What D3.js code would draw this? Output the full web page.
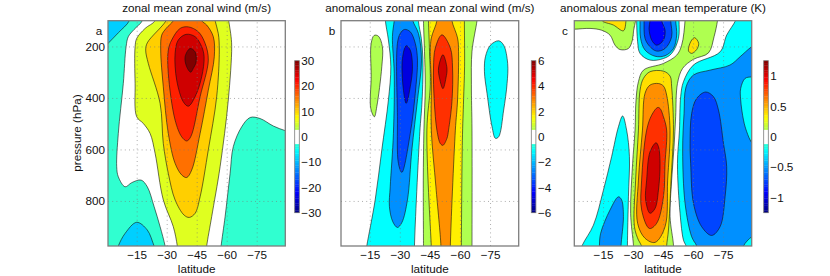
<!DOCTYPE html>
<html>
<head>
<meta charset="utf-8">
<script src="https://cdn.jsdelivr.net/npm/d3@7"></script>
<style>
body { margin: 0; background: #fff; }
text { font-family: "Liberation Sans", sans-serif; fill: #111; }
</style>
</head>
<body>
<div class="plot"></div>
<script>
// all contours are [latitude, pressure], points past the frame get clipped
const latTicks = [-15, -30, -45, -60, -75];
const pressureTicks = [200, 400, 600, 800];
const cbarA = [30, 20, 10, 0, -10, -20, -30];
const cbarB = [6, 4, 2, 0, -2, -4, -6];
const cbarC = [1, 0.5, 0, -0.5, -1];

// panel a, zonal mean zonal wind
const a_m15_corner = [[-0.7,188],[-5.8,147],[-11.3,100],[-12,60],[5,60],[5,234]];
const a_m5_left = [[-17.8,100],[-13.7,134],[-10.8,162],[-9.7,201],[-8.3,344],[-5.8,538],[-5,667],[-5.8,706],[-9.2,745],[-12.5,729],[-17.2,719],[-20.3,745],[-23.7,822],[-26.7,900],[-29.2,975],[-30,1016],[5,1016],[5,60],[-18.3,60]];
const a_m5_right = [[-57.2,975],[-59.2,861],[-61.7,693],[-63.3,589],[-67.5,512],[-71.7,476],[-76.7,480],[-83.3,509],[-89.3,527],[-95,538],[-95,1016],[-56.7,1016]];
const a_m15_bottom = [[-5.8,975],[-9.2,926],[-15,883],[-20.3,913],[-23.7,975],[-25.8,1016],[-4.2,1016]];
const a_p5 = [[-24.2,100],[-19.2,130],[-15,169],[-14.2,201],[-14.2,344],[-15,473],[-18.3,499],[-21.7,538],[-24.2,615],[-28.3,796],[-33.3,900],[-35.3,975],[-35.8,1016],[-49.5,1016],[-50,975],[-52.5,861],[-56.7,667],[-60.8,408],[-62.5,201],[-62,150],[-61,100],[-60.5,60],[-25,60]];
const a_p10 = [[-29.7,100],[-20.3,186],[-19.5,214],[-20.8,266],[-26.7,421],[-28.3,577],[-30.8,693],[-34.2,796],[-38.7,855],[-41.3,864],[-44.2,848],[-46.7,784],[-50.8,602],[-55,395],[-56.3,214],[-55.8,150],[-54.2,100],[-53.3,60],[-31.7,60]];
const a_p15 = [[-33.3,100],[-29.7,130],[-27.5,156],[-27,214],[-28.3,357],[-30.8,538],[-34.2,654],[-37.5,699],[-40,709],[-42.5,680],[-46.7,538],[-50.8,370],[-53.8,240],[-53.3,162],[-50,117],[-47.5,100],[-46.7,60],[-35,60]];
const a_p20 = [[-36.7,130],[-32.5,175],[-30.8,214],[-30.8,305],[-34.2,486],[-37.5,551],[-40,567],[-42,551],[-46.7,395],[-50.8,253],[-49.2,188],[-45.8,143],[-40.8,124]];
const a_p25 = [[-34.2,227],[-35.8,175],[-39.7,153],[-44.2,162],[-47.5,201],[-48.7,240],[-47.5,318],[-44.2,395],[-40.8,432],[-38.3,415],[-35,331]];
const a_p30 = [[-39.2,240],[-41.7,208],[-44.2,221],[-44.7,260],[-43.3,285],[-42,300],[-40,279]];

// panel b, anomalous zonal wind
const b_p1_left = [[-15.7,188],[-17.2,157],[-19.3,160],[-21.3,201],[-21,279],[-18.5,434],[-17.3,473],[-15.5,441],[-15.7,318]];
const b_m1 = [[-22.8,100],[-24.3,175],[-25.5,279],[-24.3,408],[-21,602],[-17.7,796],[-13.5,975],[-12.7,1016],[-37.3,1016],[-37.3,975],[-40,530],[-41,426],[-41.5,323],[-41.5,245],[-40.7,168],[-39.3,103],[-39.3,60],[-22.8,60]];
const b_m2 = [[-27.2,100],[-26.3,162],[-27.2,305],[-26.8,538],[-25.2,745],[-24.8,822],[-26.5,881],[-28.8,903],[-31,884],[-33.8,796],[-36,602],[-38.8,408],[-40.8,253],[-39.3,150],[-36.5,100],[-36,60],[-27.7,60]];
const b_m3 = [[-28.8,188],[-30.2,150],[-32.3,134],[-35.2,143],[-37.7,188],[-38.8,253],[-37.7,382],[-35.2,538],[-31,689],[-29.3,654],[-28.8,473]];
const b_m4 = [[-31.3,247],[-33.2,197],[-35.2,214],[-36.3,279],[-35.2,357],[-33.2,421],[-31.8,370]];
const b_m1_right = [[-72.2,298],[-72.7,240],[-75.2,195],[-79.3,178],[-81.8,195],[-83.8,266],[-83.5,344],[-81.8,447],[-79.3,551],[-77.7,557],[-76,512],[-73.5,382]];
const b_p1 = [[-41.8,100],[-42.3,219],[-42.7,349],[-42,530],[-41.7,719],[-41.8,975],[-41.8,1016],[-66,1016],[-66,975],[-66,525],[-65.7,349],[-66,219],[-68.5,100],[-69,60],[-41.8,60]];
const b_p2 = [[-44.3,100],[-44.8,219],[-45.2,349],[-43.5,525],[-45.7,975],[-46,1016],[-60.7,1016],[-60.7,975],[-61.2,564],[-61.8,408],[-62.3,279],[-62.2,100],[-62.2,60],[-44.3,60]];
const b_p3 = [[-48.5,100],[-45.7,167],[-45.2,219],[-45.7,349],[-45.7,525],[-48,745],[-50.5,975],[-50.5,1016],[-55.2,1016],[-55.2,975],[-57.7,525],[-58.8,408],[-59.3,219],[-58.8,167],[-56,100],[-56,60],[-48.5,60]];
const b_p4 = [[-51,155],[-47.7,206],[-46.8,284],[-47.2,414],[-48.5,525],[-50.2,577],[-51.5,584],[-53.5,557],[-54.3,525],[-56,414],[-56.3,284],[-55.2,206]];
const b_p5 = [[-49.3,284],[-51.5,232],[-53.5,284],[-53,323],[-51.5,364],[-49.8,323]];

// panel c, anomalous temperature
const c_green_top = [[-0.7,133],[-8.5,130],[-14.3,137],[-18.5,156],[-21,195],[-23.5,212],[-27.7,208],[-29.7,175],[-30.3,137],[-31.3,98],[-31.3,59],[5,59],[5,133]];
const c_green_band = [[-56,98],[-54.3,195],[-51.8,234],[-45.2,266],[-35.2,292],[-32.7,337],[-31.5,408],[-31,525],[-29.8,654],[-28.8,848],[-30.2,971],[-30.5,1016],[-50.2,1016],[-50.2,971],[-48.5,861],[-49.3,719],[-50.5,589],[-51.3,473],[-52.2,344],[-54.8,285],[-60.2,250],[-67.7,225],[-70.5,162],[-72.2,100],[-72.7,59],[-56,59]];
const c_gold_top = [[-14.3,98],[-20.2,117],[-25.2,139],[-26.5,98],[-26.5,59],[-14.3,59]];
const c_gold_blob = [[-57.7,217],[-59,179],[-60.8,166],[-62.8,188],[-61.8,212],[-59.3,227]];
const c_yellow = [[-38.5,298],[-35.2,324],[-33.5,370],[-32.7,525],[-31.3,719],[-30.7,900],[-32.7,952],[-34.3,975],[-35.2,1016],[-46.8,1016],[-46.8,975],[-47.7,913],[-49,719],[-50.2,525],[-49.3,357],[-48.5,315],[-45.2,296]];
const c_orange = [[-42.7,344],[-38.5,350],[-36,382],[-34.7,525],[-32.7,719],[-32.3,887],[-36,945],[-41,961],[-46,900],[-47.3,719],[-48.5,525],[-46.8,389],[-45.2,354]];
const c_red = [[-42.3,437],[-39.3,467],[-36.8,525],[-34.3,719],[-34.3,835],[-38.2,907],[-41.8,887],[-45.2,784],[-46,654],[-46.8,525],[-45.2,473],[-43.5,441]];
const c_dark = [[-41.5,574],[-38.5,609],[-36.8,719],[-36.3,796],[-38.5,848],[-41,829],[-42.7,758],[-43.5,654],[-42.7,589]];
const c_top1 = [[-31.8,98],[-32.3,182],[-33.5,227],[-38.5,253],[-45.2,247],[-49.3,227],[-52.7,169],[-53,98],[-53,59],[-31.8,59]];
const c_top2 = [[-33.5,98],[-33.8,169],[-36,214],[-41,238],[-46,236],[-50.2,208],[-51.8,156],[-51.3,98],[-51.3,59],[-33.5,59]];
const c_top3 = [[-35.5,98],[-36,169],[-38.5,201],[-41.8,218],[-46,208],[-49.3,162],[-48.8,98],[-48.8,59],[-35.5,59]];
const c_top4 = [[-38.5,100],[-38,130],[-39.3,175],[-41.8,195],[-45.2,175],[-46,137],[-44.3,100],[-44.3,59],[-38.5,59]];
const c_left1 = [[-4.7,971],[-10.2,894],[-15.2,758],[-19.3,628],[-22.7,512],[-24.8,470],[-26.8,525],[-28.2,628],[-27.7,784],[-27.2,971],[-27.2,1016],[-2.7,1016]];
const c_left2 = [[-13.2,975],[-13.8,926],[-18.5,835],[-22.7,784],[-24.3,796],[-25.2,861],[-24,975],[-24,1016],[-13.2,1016]];
const c_right1 = [[-81.3,98],[-76.8,156],[-73.5,221],[-60.2,272],[-55.2,337],[-53.8,395],[-53.2,525],[-52.2,654],[-53.5,848],[-55.2,952],[-56.5,975],[-57.7,1016],[-95.2,1016],[-95.2,59],[-82.7,59]];
const c_right2 = [[-89.3,201],[-83.5,240],[-78.5,272],[-68.5,292],[-60.2,311],[-56.5,357],[-55.5,460],[-54.8,602],[-56,809],[-59.3,939],[-61.8,975],[-62.7,1016],[-91.8,1016],[-95.2,796],[-95.2,175]];
const c_right_blob = [[-95.2,311],[-89.3,318],[-86,324],[-83.8,363],[-83.8,408],[-85.2,486],[-86.8,531],[-89.3,574],[-95.2,628]];
const c_right_corner = [[-85.2,975],[-89.3,939],[-95.2,913],[-95.2,1016],[-84.3,1016]];
const c_right3 = [[-66.3,377],[-61.8,402],[-59.3,460],[-58.5,577],[-58.8,654],[-60.2,809],[-64.3,900],[-69.3,934],[-73.5,900],[-76,784],[-76.8,667],[-75.2,577],[-72.7,447],[-70.2,395]];

// colours of the filled levels
const aColors = ["#30ffd0","#00cfff","#30ffd0","#00cfff","#dfff20","#ffcf00","#ff7000","#ff2000","#cf0000","#800000"];
const bColors = ["#afff50","#00ffff","#0090ff","#0045ff","#0000df","#00ffff","#afff50","#ffef00","#ff9000","#ff3000","#cf0000"];
const cColors = ["#afff50","#afff50","#ffdf00","#ffdf00","#ffdf00","#ff8f00","#ff3000","#cf0000","#00ffff","#0090ff","#0045ff","#0000ff","#00ffff","#0090ff","#00ffff","#0090ff","#00ffff","#00ffff","#0045ff"];

const aRings = [a_m5_left,a_m15_corner,a_m5_right,a_m15_bottom,a_p5,a_p10,a_p15,a_p20,a_p25,a_p30];
const bRings = [b_p1_left,b_m1,b_m2,b_m3,b_m4,b_m1_right,b_p1,b_p2,b_p3,b_p4,b_p5];
const cRings = [c_green_top,c_green_band,c_gold_top,c_gold_blob,c_yellow,c_orange,c_red,c_dark,c_top1,c_top2,c_top3,c_top4,c_left1,c_left2,c_right1,c_right2,c_right_blob,c_right_corner,c_right3];

const width = 830;
const height = 276;
const plotTop = 20.7, plotBottom = 246;
const frame = "#7d7d7d";
const fontSize = 11.7;

const svg = d3.select('.plot')
	.append('svg')
	.attr('width', width)
	.attr('height', height)
	.style('display', 'block');

function jet(t){
	const c = v => Math.round(255*Math.max(0, Math.min(1, 1.5-Math.abs(4*t-v))));
	return d3.rgb(c(3), c(2), c(1)).formatHex();
}

function panel(id, left, right, rings, colors, title, letter, letterX, showY){
	const x = d3.scaleLinear().domain([-0.65, -89.3]).range([left, right]);
	const y = d3.scaleLinear().domain([100, 975]).range([plotTop, plotBottom]);
	const g = svg.append('g');

	svg.append('clipPath').attr('id', 'clip'+id)
		.append('rect')
		.attr('x', left).attr('y', plotTop)
		.attr('width', right-left).attr('height', plotBottom-plotTop);

	const line = d3.line()
		.x(d => x(d[0]))
		.y(d => y(d[1]))
		.curve(d3.curveCatmullRomClosed.alpha(0.5));

	g.append('g')
		.attr('clip-path', 'url(#clip'+id+')')
		.selectAll('path')
		.data(rings)
		.enter()
		.append('path')
		.attr('d', d => line(d))
		.attr('fill', (d,i) => colors[i])
		.attr('stroke', '#111')
		.attr('stroke-width', 0.6);

	const xAxis = d3.axisBottom(x)
		.tickValues(latTicks)
		.tickSizeInner(-(plotBottom-plotTop))
		.tickSizeOuter(0)
		.tickPadding(5);
	const yAxis = d3.axisLeft(y)
		.tickValues(pressureTicks)
		.tickSizeInner(-(right-left))
		.tickSizeOuter(0)
		.tickPadding(3);
	if(!showY) yAxis.tickFormat("");

	const gx = g.append('g').attr('transform', 'translate(0,'+plotBottom+')').call(xAxis);
	const gy = g.append('g').attr('transform', 'translate('+left+',0)').call(yAxis);
	[gx, gy].forEach(a => {
		a.select('.domain').remove();
		a.selectAll('.tick line')
			.attr('stroke', '#777')
			.attr('stroke-width', 0.6)
			.attr('stroke-dasharray', '1 3.2');
		a.selectAll('text')
			.attr('font-size', fontSize)
			.attr('font-family', '"Liberation Sans", sans-serif')
			.attr('fill', '#111');
	});

	g.append('rect')
		.attr('x', left).attr('y', plotTop)
		.attr('width', right-left).attr('height', plotBottom-plotTop)
		.attr('fill', 'none')
		.attr('stroke', frame)
		.attr('stroke-width', 1.3);

	g.append('text')
		.attr('x', (left+right)/2).attr('y', 12)
		.attr('text-anchor', 'middle')
		.attr('font-size', fontSize)
		.text(title);
	g.append('text')
		.attr('x', (left+right)/2).attr('y', 272.5)
		.attr('text-anchor', 'middle')
		.attr('font-size', fontSize)
		.text('latitude');
	g.append('text')
		.attr('x', letterX).attr('y', 34.5)
		.attr('text-anchor', 'middle')
		.attr('font-size', fontSize)
		.text(letter);
}

function colorbar(left, maxVal, ticks, fmt){
	const y = d3.scaleLinear().domain([-maxVal, maxVal]).range([212.7, 60.7]);
	const w = 4.6;
	const steps = d3.range(64);
	const step = (2*maxVal)/64;
	const g = svg.append('g');

	g.selectAll('rect')
		.data(steps)
		.enter()
		.append('rect')
		.attr('x', left)
		.attr('y', d => y(-maxVal+(d+1)*step))
		.attr('width', w)
		.attr('height', d => y(-maxVal+d*step)-y(-maxVal+(d+1)*step)+0.3)
		.attr('fill', d => {
			const t = (d+0.5)/64;
			if(Math.abs(t-0.5) < 0.04) return '#ffffff';
			return t < 0.5 ? jet(t*0.92) : jet(t);
		});

	g.append('rect')
		.attr('x', left).attr('y', 60.7)
		.attr('width', w).attr('height', 152)
		.attr('fill', 'none')
		.attr('stroke', frame)
		.attr('stroke-width', 0.8);

	const axis = d3.axisRight(y)
		.tickValues(ticks)
		.tickFormat(fmt)
		.tickSize(0)
		.tickPadding(2);
	const ga = g.append('g').attr('transform', 'translate('+(left+w)+',0)').call(axis);
	ga.select('.domain').remove();
	ga.selectAll('text')
		.attr('font-size', fontSize)
		.attr('font-family', '"Liberation Sans", sans-serif')
		.attr('fill', '#111');
}

panel('a', 108, 285.3, aRings, aColors, 'zonal mean zonal wind (m/s)', 'a', 99, true);
panel('b', 341, 518.7, bRings, bColors, 'anomalous zonal mean zonal wind (m/s)', 'b', 332, false);
panel('c', 574.3, 751.7, cRings, cColors, 'anomalous zonal mean temperature (K)', 'c', 565, false);

colorbar(294.7, 30, cbarA, d3.format('d'));
colorbar(531.3, 6, cbarB, d3.format('d'));
colorbar(763.7, 1.25, cbarC, d3.format('~g'));

svg.append('text')
	.attr('transform', 'translate(80.5,133) rotate(-90)')
	.attr('text-anchor', 'middle')
	.attr('font-size', fontSize)
	.text('pressure (hPa)');
</script>
</body>
</html>
